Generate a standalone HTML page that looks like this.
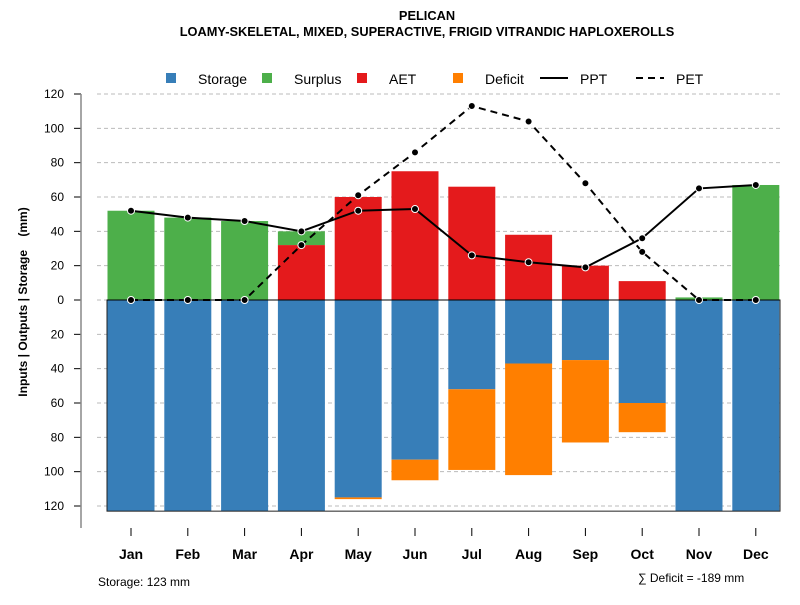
<!DOCTYPE html>
<html><head><meta charset="utf-8"><style>
body{margin:0;background:#fff}
svg{font-family:"Liberation Sans",sans-serif}
</style></head><body>
<svg id="c" width="800" height="600" viewBox="0 0 800 600">
<text x="427" y="20" text-anchor="middle" font-size="12.8" font-weight="bold">PELICAN</text>
<text x="427" y="36" text-anchor="middle" font-size="12.8" font-weight="bold">LOAMY-SKELETAL, MIXED, SUPERACTIVE, FRIGID VITRANDIC HAPLOXEROLLS</text>
<g id="legend" font-size="14">
<g><rect x="166" y="73" width="10" height="10" fill="#377EB8"/><text x="198" y="84">Storage</text></g>
<g><rect x="262" y="73" width="10" height="10" fill="#4DAF4A"/><text x="294" y="84">Surplus</text></g>
<g><rect x="357" y="73" width="10" height="10" fill="#E41A1C"/><text x="389" y="84">AET</text></g>
<g><rect x="453" y="73" width="10" height="10" fill="#FF7F00"/><text x="485" y="84">Deficit</text></g>
<g><line x1="540" y1="78" x2="568" y2="78" stroke="#000" stroke-width="2"/><text x="580" y="84">PPT</text></g>
<g><line x1="636" y1="78" x2="664" y2="78" stroke="#000" stroke-width="2" stroke-dasharray="7,5"/><text x="676" y="84">PET</text></g>
</g>
<text transform="translate(27,302) rotate(-90)" text-anchor="middle" font-size="12" font-weight="bold">Inputs | Outputs | Storage&#160;&#160;&#160;&#160;(mm)</text>
<g id="grid"></g><g id="bars"></g><g id="axes"></g><g id="lines"></g>
<text x="98" y="586" font-size="12">Storage: 123 mm</text>
<text x="638" y="582" font-size="12">∑ Deficit = -189 mm</text>
</svg>
<script>
const months=["Jan","Feb","Mar","Apr","May","Jun","Jul","Aug","Sep","Oct","Nov","Dec"];
const storage=[123,123,123,123,115,93,52,37,35,60,123,123];
const deficit=[0,0,0,0,1,12,47,65,48,17,0,0];
const aet=[0,0,0,32,60,75,66,38,20,11,0,0];
const surplus=[52,48,46,8,0,0,0,0,0,0,1.5,67];
const ppt=[52,48,46,40,52,53,26,22,19,36,65,67];
const pet=[0,0,0,32,61,86,113,104,68,28,0,0];
const ticks=[120,100,80,60,40,20,0,20,40,60,80,100,120];
const maxStorage=123;
const NS="http://www.w3.org/2000/svg";
const y0=300,k=206/120;
const yUp=v=>y0-v*k, yDn=v=>y0+v*k;
const xC=i=>131+i*56.8;
const bw=47;
function el(t,a,p){const e=document.createElementNS(NS,t);for(const q in a)e.setAttribute(q,a[q]);document.getElementById(p).appendChild(e);return e;}
ticks.forEach((t,i)=>{
  const y=i<6?yUp(t):yDn(t);
  const g=el("line",{x1:97,x2:780,y1:y,y2:y,stroke:"#bbb","stroke-dasharray":"4,3"},"grid");
  
  
  const tk=el("line",{x1:74,x2:81,y1:y,y2:y,stroke:"#000"},"axes");
  
  
  const tl=el("text",{x:64,y:y+4,"text-anchor":"end","font-size":"12"},"axes");
  tl.textContent=t;
  
  
});
const ax=el("line",{x1:81,x2:81,y1:94,y2:528,stroke:"#888","stroke-width":1.5},"axes");


function bar(x,ya,yb,c,n){const r=el("rect",{x:x-bw/2,y:Math.min(ya,yb),width:bw,height:Math.abs(yb-ya),fill:c},"bars");

}
months.forEach((m,i)=>{
  const x=xC(i);
  bar(x,yDn(0),yDn(storage[i]),"#377EB8","bar-storage-"+m.toLowerCase());
  if(deficit[i]>0)bar(x,yDn(storage[i]),yDn(storage[i]+deficit[i]),"#FF7F00","bar-deficit-"+m.toLowerCase());
  if(aet[i]>0)bar(x,yUp(0),yUp(aet[i]),"#E41A1C","bar-aet-"+m.toLowerCase());
  if(surplus[i]>0)bar(x,yUp(aet[i]),yUp(aet[i]+surplus[i]),"#4DAF4A","bar-surplus-"+m.toLowerCase());
  const t=el("line",{x1:x,x2:x,y1:528,y2:536,stroke:"#000"},"axes");
  
  
  const l=el("text",{x:x,y:559,"text-anchor":"middle","font-size":"14","font-weight":"bold"},"axes");
  l.textContent=m;
  
  
});
const box=el("rect",{x:107,y:y0,width:673,height:yDn(maxStorage)-y0,fill:"none",stroke:"#222"},"axes");


const zl=el("line",{x1:107,x2:780,y1:y0,y2:y0,stroke:"#000"},"axes");


function series(vals,dash,n){
  const p=el("polyline",{points:vals.map((v,i)=>xC(i)+","+yUp(v)).join(" "),fill:"none",stroke:"#000","stroke-width":2,"stroke-dasharray":dash},"lines");
  
  
  vals.forEach((v,i)=>{const c=el("circle",{cx:xC(i),cy:yUp(v),r:3.5,fill:"#000",stroke:"#fff","stroke-width":1},"lines");
  
  });
}
series(pet,"7,5","pet");
series(ppt,"none","ppt");
</script>
</body></html>
